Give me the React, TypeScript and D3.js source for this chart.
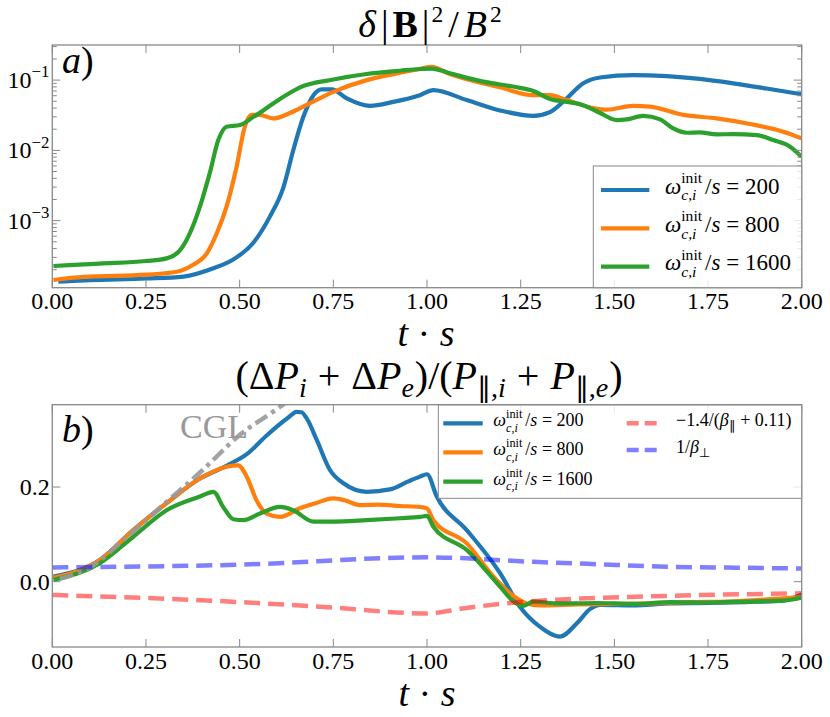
import { useEffect, useRef } from 'react';
import * as d3 from 'd3';

// ---- panel a) delta|B|^2/B^2, log scale ----
const tA200 = [0.016, 0.1, 0.25, 0.35, 0.43, 0.483, 0.536, 0.581, 0.617, 0.643, 0.67, 0.697, 0.719, 0.746, 0.786, 0.848, 0.91, 0.981, 1.017, 1.106, 1.195, 1.284, 1.328, 1.373, 1.417, 1.462, 1.55, 1.64, 1.728, 1.817, 1.906, 2.0];
const vA200 = [1.35e-4, 1.42e-4, 1.5e-4, 1.6e-4, 2.1e-4, 2.8e-4, 4.8e-4, 1.15e-3, 3.0e-3, 0.01, 0.03, 0.061, 0.074, 0.074, 0.055, 0.043, 0.049, 0.061, 0.072, 0.052, 0.037, 0.031, 0.035, 0.055, 0.09, 0.109, 0.118, 0.114, 0.104, 0.09, 0.076, 0.063];

const tA800 = [0.003, 0.083, 0.25, 0.332, 0.376, 0.412, 0.439, 0.465, 0.492, 0.514, 0.532, 0.554, 0.59, 0.634, 0.688, 0.75, 0.839, 0.928, 0.981, 1.012, 1.061, 1.195, 1.284, 1.328, 1.373, 1.444, 1.48, 1.55, 1.595, 1.684, 1.773, 1.862, 1.951, 2.0];
const vA800 = [1.43e-4, 1.58e-4, 1.7e-4, 1.87e-4, 2.35e-4, 3.4e-4, 6.6e-4, 1.58e-3, 5.9e-3, 0.022, 0.032, 0.032, 0.0285, 0.034, 0.047, 0.068, 0.1, 0.127, 0.144, 0.155, 0.122, 0.079, 0.061, 0.061, 0.052, 0.04, 0.038, 0.043, 0.042, 0.032, 0.0285, 0.0237, 0.0184, 0.0148];

const tA1600 = [0.003, 0.127, 0.25, 0.305, 0.341, 0.367, 0.394, 0.42, 0.443, 0.465, 0.501, 0.537, 0.572, 0.617, 0.661, 0.75, 0.839, 0.928, 0.981, 1.012, 1.061, 1.15, 1.24, 1.284, 1.328, 1.373, 1.417, 1.462, 1.506, 1.533, 1.577, 1.622, 1.657, 1.693, 1.728, 1.773, 1.817, 1.88, 1.924, 1.969, 2.0];
const vA1600 = [2.26e-4, 2.45e-4, 2.66e-4, 2.9e-4, 3.8e-4, 6.6e-4, 1.58e-3, 4.7e-3, 0.014, 0.0217, 0.023, 0.03, 0.04, 0.058, 0.079, 0.102, 0.122, 0.136, 0.144, 0.146, 0.125, 0.095, 0.079, 0.07, 0.054, 0.049, 0.044, 0.034, 0.027, 0.0276, 0.031, 0.0276, 0.0205, 0.0178, 0.018, 0.0169, 0.017, 0.0165, 0.014, 0.0113, 0.0081];

// ---- panel b) pressure anisotropy ----
const tB200 = [0.003, 0.127, 0.216, 0.305, 0.394, 0.465, 0.52, 0.572, 0.63, 0.652, 0.665, 0.679, 0.706, 0.741, 0.777, 0.839, 0.901, 0.95, 0.981, 1.0, 1.026, 1.106, 1.195, 1.248, 1.301, 1.355, 1.4, 1.435, 1.462, 1.55, 1.65, 1.75, 1.85, 1.95, 2.0];
const vB200 = [0.011, 0.046, 0.109, 0.166, 0.218, 0.245, 0.27, 0.309, 0.347, 0.359, 0.358, 0.345, 0.299, 0.236, 0.208, 0.19, 0.195, 0.212, 0.222, 0.227, 0.18, 0.109, 0.018, -0.053, -0.095, -0.116, -0.088, -0.058, -0.049, -0.05, -0.046, -0.045, -0.043, -0.04, -0.027];

const tB800 = [0.003, 0.127, 0.216, 0.305, 0.394, 0.465, 0.496, 0.519, 0.545, 0.572, 0.608, 0.661, 0.7, 0.75, 0.78, 0.821, 0.87, 0.928, 0.981, 1.0, 1.017, 1.106, 1.177, 1.222, 1.266, 1.3, 1.4, 1.5, 1.6, 1.7, 1.8, 1.9, 2.0];
const vB800 = [0.008, 0.046, 0.109, 0.166, 0.218, 0.243, 0.246, 0.222, 0.172, 0.144, 0.137, 0.155, 0.165, 0.176, 0.172, 0.162, 0.163, 0.16, 0.158, 0.155, 0.13, 0.081, 0.011, -0.0245, -0.046, -0.05, -0.048, -0.047, -0.046, -0.043, -0.042, -0.038, -0.032];

const tB1600 = [0.003, 0.127, 0.216, 0.305, 0.394, 0.43, 0.456, 0.483, 0.51, 0.554, 0.608, 0.643, 0.697, 0.75, 0.839, 0.928, 0.981, 1.0, 1.017, 1.106, 1.195, 1.231, 1.257, 1.284, 1.35, 1.45, 1.55, 1.65, 1.75, 1.85, 1.95, 2.0];
const vB1600 = [0.004, 0.039, 0.095, 0.151, 0.18, 0.19, 0.158, 0.132, 0.13, 0.144, 0.158, 0.151, 0.127, 0.127, 0.13, 0.134, 0.137, 0.139, 0.116, 0.067, -0.0106, -0.042, -0.051, -0.042, -0.046, -0.045, -0.047, -0.043, -0.044, -0.042, -0.04, -0.034];

const tCGL = [0.02, 0.1, 0.2, 0.3, 0.4, 0.5, 0.6, 0.66];
const vCGL = [0.006, 0.03, 0.095, 0.165, 0.235, 0.31, 0.365, 0.4];

const tFire = [0, 0.394, 0.7, 1.0, 1.1, 1.25, 1.373, 1.64, 2.0];
const vFire = [-0.028, -0.039, -0.052, -0.067, -0.056, -0.043, -0.037, -0.03, -0.0245];

const tMirror = [0, 0.5, 1.0, 1.284, 1.462, 1.64, 1.82, 2.0];
const vMirror = [0.03, 0.036, 0.0515, 0.042, 0.0367, 0.0317, 0.0296, 0.028];

const xTicks = [0, 0.25, 0.5, 0.75, 1, 1.25, 1.5, 1.75, 2];
const yTicksB = [0, 0.2];
const decades = [-3, -2, -1];
const runLabels = ['200', '800', '1600'];
const runColors = ['#1f77b4', '#ff7f0e', '#2ca02c'];

const SERIF = '"Liberation Serif", serif';
const FRAME = '#888888';

type Seg = { s: string; it?: boolean; bf?: boolean; sc?: number; sh?: number; stack?: boolean; gap?: number };
type G = d3.Selection<SVGGElement, unknown, null, undefined>;

// lays out a run of text pieces (sub/superscripts) one after another
function mathText(parent: G, x: number, y: number, segs: Seg[], size: number, anchor = 'start', fill = '#000') {
  const g = parent.append('g');
  let cur = 0;
  let lastStart = 0;
  segs.forEach(sg => {
    const start = sg.stack ? lastStart : cur;
    const t = g.append('text')
      .attr('x', start)
      .attr('y', -(sg.sh ?? 0) * size)
      .attr('font-family', SERIF)
      .attr('font-size', size * (sg.sc ?? 1))
      .attr('font-style', sg.it ? 'italic' : 'normal')
      .attr('font-weight', sg.bf ? 'bold' : 'normal')
      .attr('fill', fill)
      .style('white-space', 'pre')
      .text(sg.s);
    const w = (t.node() as SVGTextElement).getComputedTextLength();
    if (sg.stack) {
      cur = Math.max(cur, start + w);
    } else {
      lastStart = start;
      cur = start + w;
    }
    cur += sg.gap ?? 0;
  });
  const dx = anchor === 'middle' ? -cur / 2 : anchor === 'end' ? -cur : 0;
  g.attr('transform', `translate(${x + dx},${y})`);
  return g;
}

const omegaSegs = (v: string): Seg[] => [
  { s: 'ω', it: true },
  { s: 'init', sc: 0.68, sh: 0.45 },
  { s: 'c,i', it: true, sc: 0.68, sh: -0.3, stack: true, gap: 3 },
  { s: '/' },
  { s: 's', it: true },
  { s: ' = ' + v }
];

export default function App() {
  const svgRef = useRef<SVGSVGElement>(null);

  useEffect(() => {
    if (!svgRef.current) return;
    const svg = d3.select(svgRef.current);
    svg.selectAll('*').remove();
    const root = svg.append('g') as unknown as G;

    const left = 52.3, right = 801.7;
    const x = d3.scaleLinear().domain([0, 2]).range([left, right]);

    // ---------- panel a ----------
    const aTop = 45, aBot = 287.7;
    const yA = d3.scaleLog().domain([1.11e-4, 0.316]).range([aBot, aTop]);

    const defs = svg.append('defs');
    defs.append('clipPath').attr('id', 'clipA').append('rect')
      .attr('x', left).attr('y', aTop).attr('width', right - left).attr('height', aBot - aTop);

    const drawSeries = (g: G, ts: number[], vs: number[], y: (v: number) => number, color: string, w: number, dash?: string, opacity = 1) => {
      const line = d3.line<number>()
        .x((_, i) => x(ts[i]))
        .y(d => y(d))
        .curve(d3.curveMonotoneX);
      g.append('path')
        .attr('d', line(vs) || '')
        .attr('fill', 'none')
        .attr('stroke', color)
        .attr('stroke-width', w)
        .attr('stroke-opacity', opacity)
        .attr('stroke-dasharray', dash ?? null)
        .attr('stroke-linejoin', 'round');
    };

    const gA = root.append('g').attr('clip-path', 'url(#clipA)') as unknown as G;
    drawSeries(gA, tA200, vA200, yA, runColors[0], 4.2);
    drawSeries(gA, tA800, vA800, yA, runColors[1], 4.2);
    drawSeries(gA, tA1600, vA1600, yA, runColors[2], 4.2);

    const tickG = root.append('g').attr('stroke', FRAME).attr('stroke-width', 1);
    const frame = (top: number, bot: number) => {
      root.append('rect')
        .attr('x', left).attr('y', top).attr('width', right - left).attr('height', bot - top)
        .attr('fill', 'none').attr('stroke', FRAME).attr('stroke-width', 1.3);
    };

    // x ticks both panels (inward, top and bottom)
    const xTickAll = (top: number, bot: number, labelY: number) => {
      xTicks.forEach(t => {
        tickG.append('line').attr('x1', x(t)).attr('x2', x(t)).attr('y1', bot).attr('y2', bot - 8);
        tickG.append('line').attr('x1', x(t)).attr('x2', x(t)).attr('y1', top).attr('y2', top + 8);
        root.append('text')
          .attr('x', x(t)).attr('y', labelY)
          .attr('text-anchor', 'middle')
          .attr('font-family', SERIF)
          .attr('font-size', 24)
          .text(d3.format('.2f')(t));
      });
    };
    xTickAll(aTop, aBot, aBot + 21.5);

    // log y ticks
    decades.forEach(k => {
      const yy = yA(Math.pow(10, k));
      tickG.append('line').attr('x1', left).attr('x2', left + 8).attr('y1', yy).attr('y2', yy);
      tickG.append('line').attr('x1', right).attr('x2', right - 8).attr('y1', yy).attr('y2', yy);
      mathText(root, left - 3, yy + 8, [{ s: '10' }, { s: '−' + Math.abs(k), sc: 0.7, sh: 0.45 }], 24, 'end');
    });
    [-4, -3, -2, -1].forEach(k => {
      d3.range(2, 10).forEach(m => {
        const v = m * Math.pow(10, k);
        const [d0, d1] = yA.domain();
        if (v < d0 || v > d1) return;
        const yy = yA(v);
        tickG.append('line').attr('x1', left).attr('x2', left + 4.5).attr('y1', yy).attr('y2', yy);
        tickG.append('line').attr('x1', right).attr('x2', right - 4.5).attr('y1', yy).attr('y2', yy);
      });
    });
    frame(aTop, aBot);

    // titles and labels panel a
    mathText(root, 430, 37, [
      { s: 'δ', it: true, gap: 5 }, { s: '|', gap: 4 }, { s: 'B', bf: true, gap: 4 }, { s: '|', gap: 2 },
      { s: '2', sc: 0.62, sh: 0.4, gap: 5 }, { s: '/', gap: 5 }, { s: 'B', it: true, gap: 3 }, { s: '2', sc: 0.62, sh: 0.4 }
    ], 38, 'middle');
    mathText(root, 426, 346, [{ s: 't', it: true }, { s: ' · ' }, { s: 's', it: true }], 38, 'middle');
    mathText(root, 62, 73, [{ s: 'a', it: true }, { s: ')' }], 38);

    // legend a
    const legA = root.append('g') as unknown as G;
    legA.append('rect')
      .attr('x', 593.3).attr('y', 166).attr('width', right - 593.3).attr('height', aBot - 166)
      .attr('fill', 'white').attr('fill-opacity', 0.8).attr('stroke', FRAME).attr('stroke-width', 1);
    [190, 228.3, 266.7].forEach((ly, i) => {
      legA.append('line').attr('x1', 601).attr('x2', 649.3).attr('y1', ly).attr('y2', ly)
        .attr('stroke', runColors[i]).attr('stroke-width', 4.2);
      mathText(legA, 665, ly + 3.5, omegaSegs(runLabels[i]), 23);
    });

    // ---------- panel b ----------
    const bTop = 404.7, bBot = 647;
    const yB = d3.scaleLinear().domain([-0.138, 0.374]).range([bBot, bTop]);
    defs.append('clipPath').attr('id', 'clipB').append('rect')
      .attr('x', left).attr('y', bTop).attr('width', right - left).attr('height', bBot - bTop);

    const gB = root.append('g').attr('clip-path', 'url(#clipB)') as unknown as G;
    drawSeries(gB, tB200, vB200, yB, runColors[0], 4.2);
    drawSeries(gB, tB800, vB800, yB, runColors[1], 4.2);
    drawSeries(gB, tB1600, vB1600, yB, runColors[2], 4.2);
    drawSeries(gB, tCGL, vCGL, yB, '#999999', 4.5, '14,5,4,5', 0.9);
    drawSeries(gB, tFire, vFire, yB, '#ff0000', 4.5, '16,8', 0.5);
    drawSeries(gB, tMirror, vMirror, yB, '#0000ff', 4.5, '16,8', 0.5);

    xTickAll(bTop, bBot, bBot + 22);
    yTicksB.forEach(v => {
      const yy = yB(v);
      tickG.append('line').attr('x1', left).attr('x2', left + 8).attr('y1', yy).attr('y2', yy);
      tickG.append('line').attr('x1', right).attr('x2', right - 8).attr('y1', yy).attr('y2', yy);
      root.append('text')
        .attr('x', left - 2.5).attr('y', yy + 8)
        .attr('text-anchor', 'end')
        .attr('font-family', SERIF)
        .attr('font-size', 24)
        .text(d3.format('.1f')(v));
    });
    frame(bTop, bBot);

    mathText(root, 429, 388.5, [
      { s: '(Δ' }, { s: 'P', it: true }, { s: 'i', it: true, sc: 0.7, sh: -0.2, gap: 1 },
      { s: ' + ', gap: 1 }, { s: 'Δ' }, { s: 'P', it: true }, { s: 'e', it: true, sc: 0.7, sh: -0.2, gap: 1 },
      { s: ')/(' }, { s: 'P', it: true }, { s: '∥,', sc: 0.7, sh: -0.2 }, { s: 'i', it: true, sc: 0.7, sh: -0.2, gap: 1 },
      { s: ' + ', gap: 1 }, { s: 'P', it: true }, { s: '∥,', sc: 0.7, sh: -0.2 }, { s: 'e', it: true, sc: 0.7, sh: -0.2, gap: 1 },
      { s: ')' }
    ], 40, 'middle');
    mathText(root, 427, 706, [{ s: 't', it: true }, { s: ' · ' }, { s: 's', it: true }], 38, 'middle');
    mathText(root, 62, 442, [{ s: 'b', it: true }, { s: ')' }], 38);
    root.append('text').attr('x', 180).attr('y', 438)
      .attr('font-family', SERIF).attr('font-size', 34).attr('fill', '#999999').text('CGL');

    // legend b
    const legB = root.append('g') as unknown as G;
    legB.append('rect')
      .attr('x', 438.3).attr('y', 405).attr('width', right - 438.3).attr('height', 498.3 - 405)
      .attr('fill', 'white').attr('fill-opacity', 0.8).attr('stroke', FRAME).attr('stroke-width', 1);
    [423.3, 452.3, 481.7].forEach((ly, i) => {
      legB.append('line').attr('x1', 443.3).attr('x2', 482.7).attr('y1', ly).attr('y2', ly)
        .attr('stroke', runColors[i]).attr('stroke-width', 4.2);
      mathText(legB, 493.3, ly + 3, omegaSegs(runLabels[i]), 18);
    });
    legB.append('line').attr('x1', 626.7).attr('x2', 661.7).attr('y1', 423.3).attr('y2', 423.3)
      .attr('stroke', '#ff0000').attr('stroke-opacity', 0.5).attr('stroke-width', 4.5).attr('stroke-dasharray', '12,6');
    mathText(legB, 676, 426.3, [
      { s: '−1.4/(' }, { s: 'β', it: true }, { s: '∥', sc: 0.7, sh: -0.2 }, { s: ' + 0.11)' }
    ], 18);
    legB.append('line').attr('x1', 626.7).attr('x2', 661.7).attr('y1', 450).attr('y2', 450)
      .attr('stroke', '#0000ff').attr('stroke-opacity', 0.5).attr('stroke-width', 4.5).attr('stroke-dasharray', '12,6');
    mathText(legB, 676, 453, [
      { s: '1/' }, { s: 'β', it: true }, { s: '⊥', sc: 0.7, sh: -0.2 }
    ], 18);
  }, []);

  return (
    <div style={{ position: 'absolute', left: 0, top: 0, width: 830, height: 717, background: '#fff' }}>
      <svg ref={svgRef} width={830} height={717} style={{ display: 'block' }} />
    </div>
  );
}
